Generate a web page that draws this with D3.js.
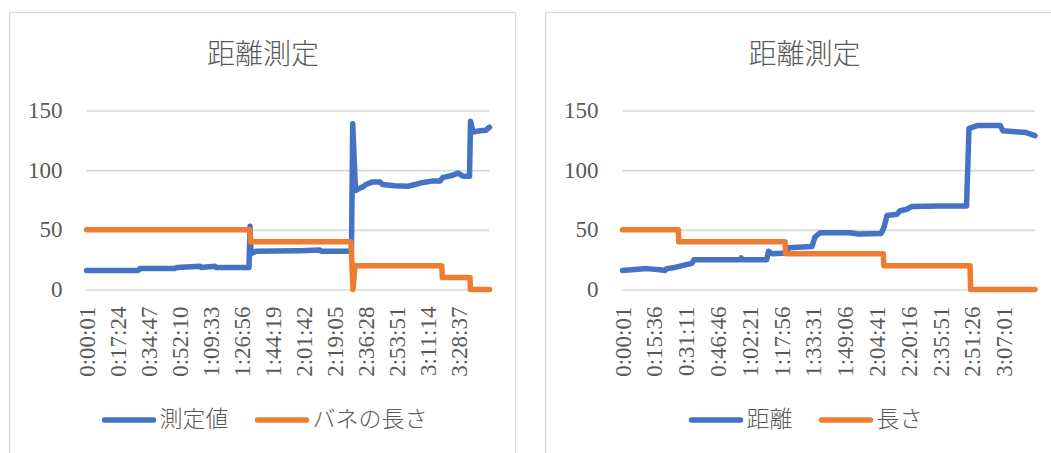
<!DOCTYPE html>
<html>
<head>
<meta charset="utf-8">
<script src="https://cdn.jsdelivr.net/npm/d3@7"></script>
<style>
	body { margin: 0; background: #fff; }
	svg { display: block; }
	text { fill: #595959; font-family: 'Liberation Serif', 'Noto Sans CJK JP', serif; }
</style>
</head>
<body>
<div id="chart"></div>
<script>
// y axis (same for both charts)
const yTicks = [0, 50, 100, 150];

// left chart: 測定値 / バネの長さ
const leftTicks = ['0:00:01', '0:17:24', '0:34:47', '0:52:10', '1:09:33', '1:26:56', '1:44:19',
	'2:01:42', '2:19:05', '2:36:28', '2:53:51', '3:11:14', '3:28:37'];
const leftEnd = '3:46:02';
const leftMeasured = [
	['0:00:01', 16], ['0:28:54', 16], ['0:30:01', 17.5], ['0:49:39', 17.5], ['0:50:46', 18.5],
	['1:03:40', 19.5], ['1:04:10', 18.5], ['1:12:05', 19.5], ['1:12:40', 18.5], ['1:31:09', 18.5],
	['1:31:43', 53], ['1:32:16', 30], ['1:35:05', 32], ['1:59:45', 32.5], ['2:10:58', 33],
	['2:11:40', 32], ['2:28:38', 32], ['2:29:18', 139], ['2:30:53', 83], ['2:33:24', 85],
	['2:35:00', 86], ['2:36:46', 88], ['2:40:08', 90], ['2:44:37', 90], ['2:46:00', 88],
	['2:53:02', 87], ['3:00:20', 86.5], ['3:04:15', 88], ['3:08:11', 89.5], ['3:14:21', 91],
	['3:18:17', 91], ['3:19:58', 94], ['3:25:01', 95.5], ['3:28:23', 97.5], ['3:31:11', 95],
	['3:34:50', 95], ['3:35:23', 141], ['3:36:47', 132], ['3:40:43', 133], ['3:44:05', 133.5],
	['3:46:02', 136]
];
const leftSpring = [
	['0:00:01', 50], ['1:31:43', 50], ['1:32:00', 40], ['2:28:21', 40], ['2:29:28', 0],
	['2:30:36', 20], ['3:19:15', 20], ['3:19:35', 10], ['3:35:05', 10], ['3:35:20', 0],
	['3:46:02', 0]
];

// right chart: 距離 / 長さ
const rightTicks = ['0:00:01', '0:15:36', '0:31:11', '0:46:46', '1:02:21', '1:17:56', '1:33:31',
	'1:49:06', '2:04:41', '2:20:16', '2:35:51', '2:51:26', '3:07:01'];
const rightEnd = '3:22:13';
const rightDistance = [
	['0:00:01', 16], ['0:11:53', 17.5], ['0:18:24', 16.5], ['0:20:51', 16], ['0:21:50', 17.5],
	['0:25:45', 18.5], ['0:29:11', 20], ['0:33:06', 21.5], ['0:34:05', 22], ['0:35:04', 25],
	['0:57:37', 25], ['0:58:10', 26.5], ['0:58:40', 25], ['1:10:42', 25], ['1:11:35', 32],
	['1:13:18', 30], ['1:20:39', 30.5], ['1:21:23', 35], ['1:32:54', 36], ['1:34:23', 44],
	['1:36:50', 47.5], ['1:51:32', 47.5], ['1:55:28', 46.5], ['2:06:44', 47], ['2:08:12', 52],
	['2:09:41', 62], ['2:14:35', 63], ['2:16:03', 66], ['2:19:00', 67], ['2:21:56', 69.5],
	['2:35:40', 70], ['2:48:39', 70], ['2:49:52', 135], ['2:54:17', 137.5], ['3:05:04', 137.5],
	['3:06:33', 133], ['3:17:49', 131.5], ['3:22:13', 129]
];
const rightLength = [
	['0:00:01', 50], ['0:27:22', 50], ['0:27:35', 40], ['1:19:40', 40], ['1:20:00', 30],
	['2:07:51', 30], ['2:08:10', 20], ['2:50:21', 20], ['2:50:40', 0], ['3:22:13', 0]
];

const blue = '#4472C4';
const orange = '#ED7D31';
const grid = '#d9d9d9';

function toSec(s) {
	const p = s.split(':').map(Number);
	return p[0] * 3600 + p[1] * 60 + p[2];
}

const svg = d3.select('#chart').append('svg')
	.attr('width', 1051)
	.attr('height', 453);

function drawChart(cfg) {
	const g = svg.append('g');

	// chart frame
	g.append('rect')
		.attr('x', cfg.frame[0]).attr('y', cfg.frame[1])
		.attr('width', cfg.frame[2]).attr('height', cfg.frame[3])
		.attr('fill', '#fff').attr('stroke', grid).attr('stroke-width', 1.3);

	g.append('text')
		.attr('x', cfg.center).attr('y', 54)
		.attr('text-anchor', 'middle')
		.attr('dominant-baseline', 'central')
		.attr('font-size', 28)
		.attr('font-weight', 300)
		.text(cfg.title);

	const x = d3.scaleLinear()
		.domain([1, toSec(cfg.end)])
		.range([cfg.left, cfg.right]);
	const y = d3.scaleLinear()
		.domain([0, 150])
		.range([289.5, 110.5]);

	g.append('g')
		.attr('transform', 'translate(' + cfg.left + ',0)')
		.call(d3.axisLeft(y).tickValues(yTicks).tickSize(-(cfg.right - cfg.left)).tickPadding(24))
		.call(a => a.select('.domain').remove())
		.call(a => a.selectAll('line').attr('stroke', grid).attr('stroke-width', 1.6))
		.call(a => a.selectAll('text').attr('font-size', 23).attr('dy', '0.3em'));

	g.append('g')
		.attr('transform', 'translate(0,289.5)')
		.call(d3.axisBottom(x).tickValues(cfg.ticks.map(toSec)).tickFormat((d, i) => cfg.ticks[i]).tickSize(0))
		.call(a => a.select('.domain').remove())
		.call(a => a.selectAll('text')
			.attr('font-size', 23)
			.attr('transform', 'rotate(-90)')
			.attr('text-anchor', 'end')
			.attr('x', -17)
			.attr('y', 0)
			.attr('dy', '0.33em'));

	const line = d3.line()
		.x(d => x(toSec(d[0])))
		.y(d => y(d[1]));

	cfg.series.forEach(s => {
		g.append('path')
			.datum(s.data)
			.attr('fill', 'none')
			.attr('stroke', s.color)
			.attr('stroke-width', 5.5)
			.attr('stroke-linejoin', 'round')
			.attr('stroke-linecap', 'round')
			.attr('d', line);
	});

	// legend, centred under the chart
	const lg = g.append('g');
	let pos = 0;
	cfg.series.forEach((s, i) => {
		if (i > 0) pos += 27;
		lg.append('line')
			.attr('x1', pos + 2).attr('x2', pos + 51)
			.attr('y1', 420).attr('y2', 420)
			.attr('stroke', s.color).attr('stroke-width', 5.5).attr('stroke-linecap', 'round');
		const t = lg.append('text')
			.attr('x', pos + 57).attr('y', 419)
			.attr('dominant-baseline', 'central')
			.attr('font-size', 23)
			.attr('font-weight', 300)
			.text(s.name);
		pos += 57 + t.node().getComputedTextLength();
	});
	lg.attr('transform', 'translate(' + (cfg.legendCenter - pos / 2) + ',0)');
}

drawChart({
	frame: [9.5, 12.5, 506, 460],
	center: 263,
	legendCenter: 265,
	title: '距離測定',
	left: 86.5,
	right: 489.5,
	ticks: leftTicks,
	end: leftEnd,
	series: [
		{ name: '測定値', data: leftMeasured, color: blue },
		{ name: 'バネの長さ', data: leftSpring, color: orange }
	]
});

drawChart({
	frame: [545.5, 12.5, 520, 460],
	center: 804.5,
	legendCenter: 806,
	title: '距離測定',
	left: 622.5,
	right: 1035,
	ticks: rightTicks,
	end: rightEnd,
	series: [
		{ name: '距離', data: rightDistance, color: blue },
		{ name: '長さ', data: rightLength, color: orange }
	]
});
</script>
</body>
</html>
